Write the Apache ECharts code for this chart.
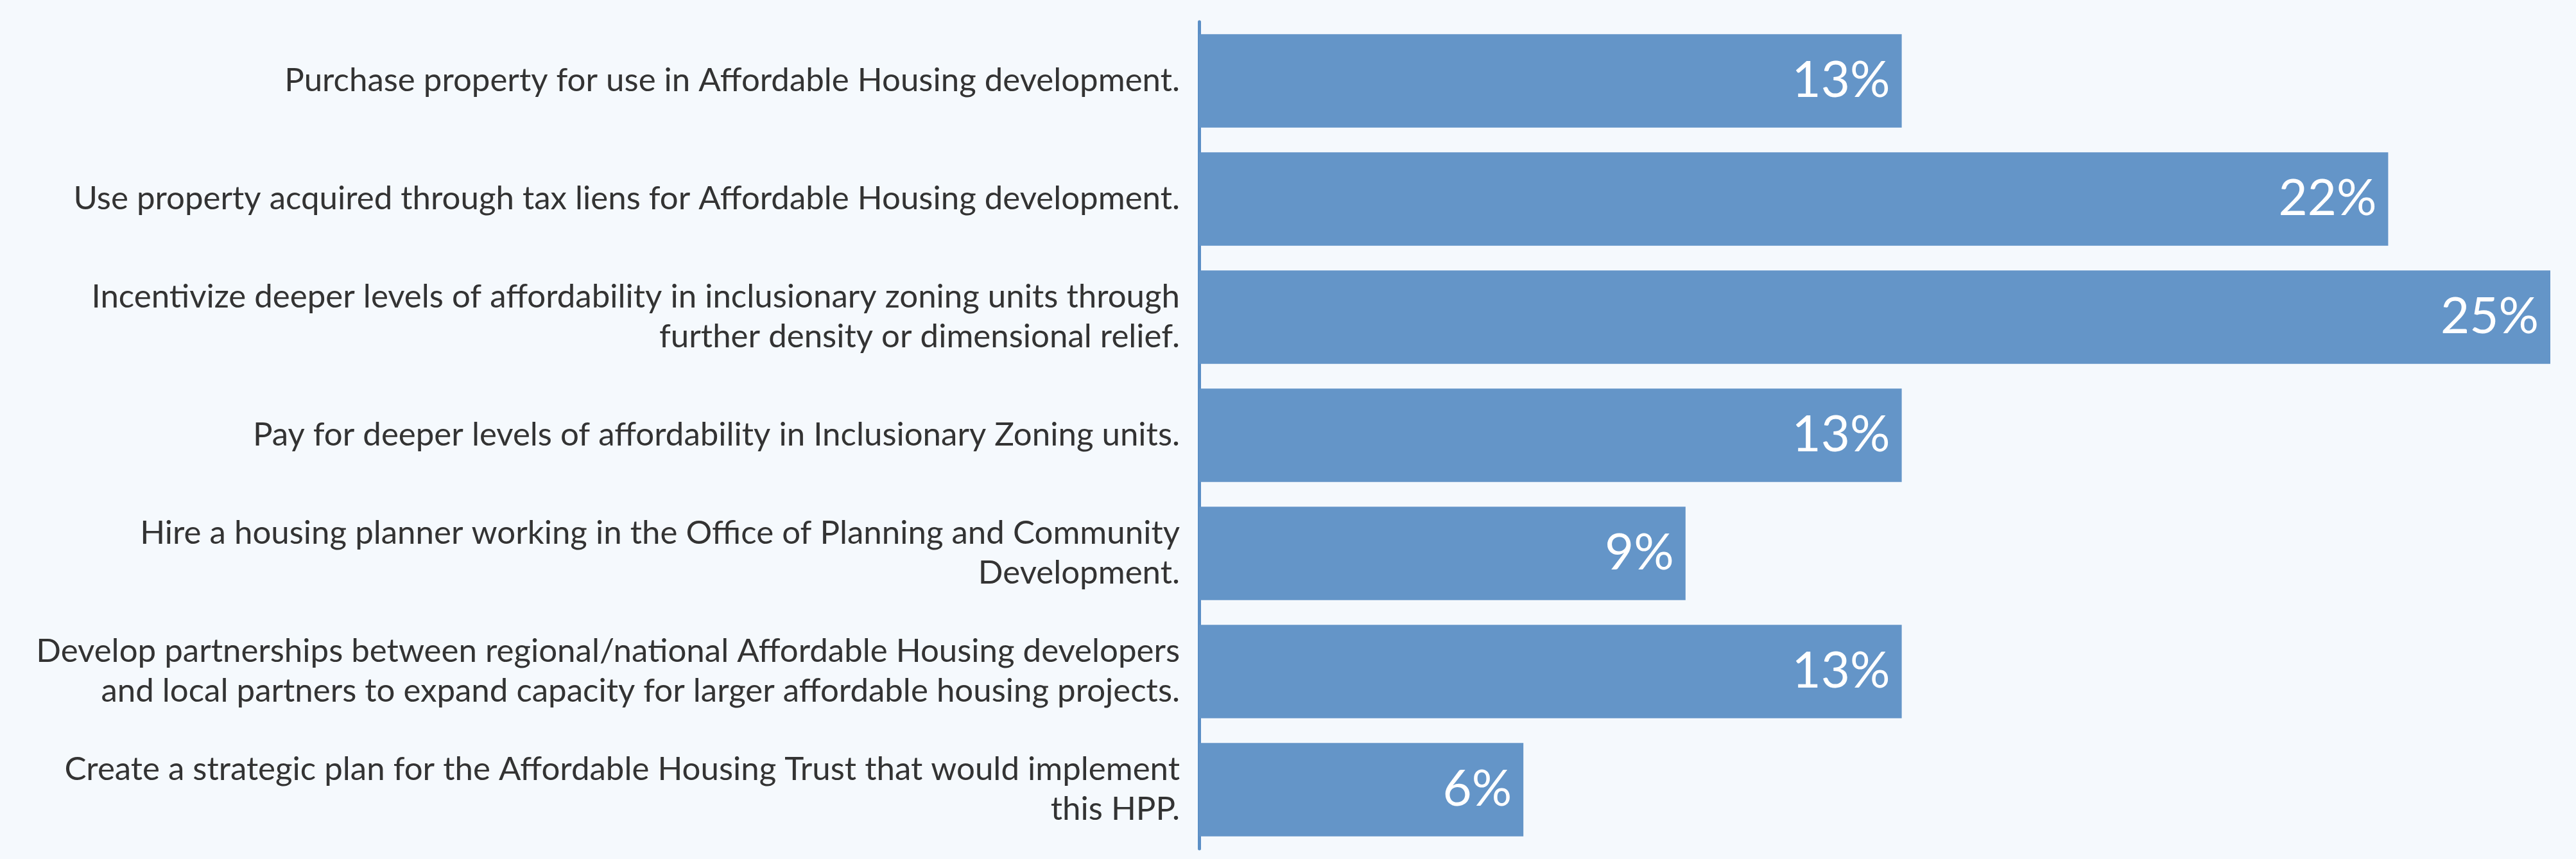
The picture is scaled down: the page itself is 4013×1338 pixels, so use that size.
<!DOCTYPE html>
<html>
<head>
<meta charset="utf-8">
<style>
  html, body { margin: 0; padding: 0; background: #f5f9fd; }
  #chart { width: 4013px; height: 1338px; }
</style>
<script src="https://cdn.jsdelivr.net/npm/echarts@6/dist/echarts.min.js"></script>
</head>
<body>
<div id="chart"></div>
<script>
// Strategies, listed top to bottom
const categories = [
  'Purchase property for use in Affordable Housing development.',
  'Use property acquired through tax liens for Affordable Housing development.',
  'Incentivize deeper levels of affordability in inclusionary zoning units through\nfurther density or dimensional relief.',
  'Pay for deeper levels of affordability in Inclusionary Zoning units.',
  'Hire a housing planner working in the Office of Planning and Community\nDevelopment.',
  'Develop partnerships between regional/national Affordable Housing developers\nand local partners to expand capacity for larger affordable housing projects.',
  'Create a strategic plan for the Affordable Housing Trust that would implement\nthis HPP.'
];

// Share of respondents (%)
const shares = [13, 22, 25, 13, 9, 13, 6];

const chart = echarts.init(document.getElementById('chart'), null, { renderer: 'canvas' });

chart.setOption({
  backgroundColor: '#f5f9fd',
  animation: false,
  grid: { left: 1868, right: 40, top: 34, bottom: 16, containLabel: false },
  xAxis: {
    type: 'value',
    min: 0,
    max: 25,
    show: false
  },
  yAxis: {
    type: 'category',
    inverse: true,
    data: categories,
    axisLine: { show: true, lineStyle: { color: '#5b8fc6', width: 5 } },
    axisTick: { show: false },
    axisLabel: {
      margin: 30,
      color: '#333333',
      fontFamily: 'Lato, sans-serif',
      fontSize: 51,
      lineHeight: 62,
      align: 'right'
    }
  },
  series: [{
    type: 'bar',
    data: shares,
    barCategoryGap: '21%',
    itemStyle: { color: '#6495c8' },
    label: {
      show: true,
      position: 'insideRight',
      distance: 18,
      color: '#ffffff',
      fontFamily: 'Lato, sans-serif',
      fontSize: 78,
      formatter: p => p.value + '%'
    }
  }]
});
</script>
</body>
</html>
